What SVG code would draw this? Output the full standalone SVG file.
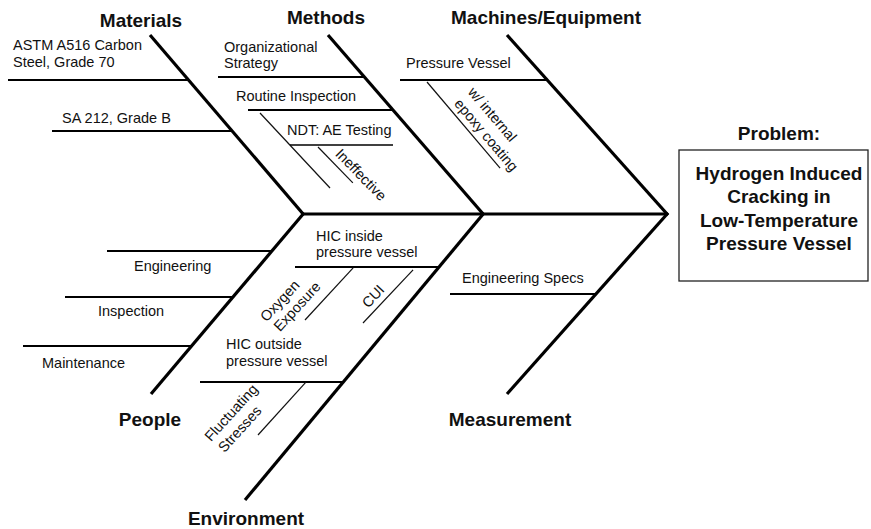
<svg xmlns="http://www.w3.org/2000/svg" width="871" height="529" viewBox="0 0 871 529">
  <style>
    text { font-family: "Liberation Sans", Arial, sans-serif; fill: #111; }
    .lbl { font-size: 14.5px; }
    .cat { font-size: 19px; font-weight: bold; text-anchor: middle; }
    .prob { font-size: 19px; font-weight: bold; text-anchor: middle; }
    .bone { stroke: #000; stroke-width: 3.2; stroke-linecap: butt; fill: none; }
    .rib { stroke: #000; stroke-width: 2.2; fill: none; }
    .twig { stroke: #111; stroke-width: 1.2; fill: none; }
  </style>
  <rect width="871" height="529" fill="#fff"/>

  <!-- skeleton: spine and the six category bones -->
  <g id="connectors">
    <line class="bone" x1="303" y1="214" x2="668" y2="214"/>
    <line class="bone" x1="150" y1="35" x2="304" y2="215"/>
    <line class="bone" x1="328" y1="35" x2="484" y2="215"/>
    <line class="bone" x1="507" y1="35" x2="668" y2="215"/>
    <line class="bone" x1="304" y1="213" x2="151" y2="394"/>
    <line class="bone" x1="484" y1="213" x2="245" y2="500"/>
    <line class="bone" x1="668" y1="213" x2="507" y2="394"/>
  </g>

  <!-- Materials -->
  <g id="materials">
    <text class="cat" x="141" y="27">Materials</text>
    <line class="rib" x1="8" y1="80" x2="188" y2="80"/>
    <text class="lbl" x="13" y="50">ASTM A516 Carbon</text>
    <text class="lbl" x="13" y="67">Steel, Grade 70</text>
    <line class="rib" x1="52" y1="131" x2="232" y2="131"/>
    <text class="lbl" x="62" y="123">SA 212, Grade B</text>
  </g>

  <!-- Methods -->
  <g id="methods">
    <text class="cat" x="326" y="24">Methods</text>
    <line class="rib" x1="218" y1="77" x2="364" y2="77"/>
    <text class="lbl" x="224" y="52">Organizational</text>
    <text class="lbl" x="224" y="68">Strategy</text>
    <line class="rib" x1="248" y1="110" x2="393" y2="110"/>
    <text class="lbl" x="236" y="101">Routine Inspection</text>
    <line class="twig" x1="260" y1="113" x2="330" y2="188"/>
    <line class="rib" x1="290" y1="145" x2="393" y2="145" style="stroke-width:1.6"/>
    <text class="lbl" x="287" y="135">NDT: AE Testing</text>
    <g transform="translate(318,147) rotate(45.8)">
      <line class="twig" x1="0" y1="0" x2="50" y2="0"/>
      <text class="lbl" x="17" y="-6.5">Ineffective</text>
    </g>
  </g>

  <!-- Machines/Equipment -->
  <g id="machines">
    <text class="cat" x="546" y="24">Machines/Equipment</text>
    <line class="rib" x1="400" y1="80" x2="546" y2="80"/>
    <text class="lbl" x="406" y="68">Pressure Vessel</text>
    <g transform="translate(427,82) rotate(49.7)">
      <line class="twig" x1="0" y1="0" x2="113" y2="0"/>
      <text class="lbl" x="34" y="-24">w/ internal</text>
      <text class="lbl" x="34" y="-6">epoxy coating</text>
    </g>
  </g>

  <!-- People -->
  <g id="people">
    <text class="cat" x="150" y="426">People</text>
    <line class="rib" x1="107" y1="251" x2="272" y2="251"/>
    <text class="lbl" x="134" y="271">Engineering</text>
    <line class="rib" x1="65" y1="297" x2="233" y2="297"/>
    <text class="lbl" x="98" y="316">Inspection</text>
    <line class="rib" x1="23" y1="346" x2="192" y2="346"/>
    <text class="lbl" x="42" y="368">Maintenance</text>
  </g>

  <!-- Environment -->
  <g id="environment">
    <text class="cat" x="246" y="525">Environment</text>
    <line class="rib" x1="295" y1="267" x2="439" y2="267"/>
    <text class="lbl" x="316" y="241">HIC inside</text>
    <text class="lbl" x="316" y="257">pressure vessel</text>
    <g transform="translate(305,320) rotate(-47.3)">
      <line class="twig" x1="0" y1="0" x2="71" y2="0"/>
      <text class="lbl" x="-28" y="-26.5">Oxygen</text>
      <text class="lbl" x="-26" y="-10">Exposure</text>
    </g>
    <g transform="translate(363,323) rotate(-46.7)">
      <line class="twig" x1="0" y1="0" x2="73" y2="0"/>
      <text class="lbl" x="14" y="-6">CUI</text>
    </g>
    <line class="rib" x1="200" y1="382" x2="343" y2="382"/>
    <text class="lbl" x="226" y="349">HIC outside</text>
    <text class="lbl" x="226" y="366">pressure vessel</text>
    <g transform="translate(258,435) rotate(-47.8)">
      <line class="twig" x1="0" y1="0" x2="71" y2="0"/>
      <text class="lbl" x="-37" y="-30">Fluctuating</text>
      <text class="lbl" x="-36" y="-12.5">Stresses</text>
    </g>
  </g>

  <!-- Measurement -->
  <g id="measurement">
    <text class="cat" x="510" y="426">Measurement</text>
    <line class="rib" x1="450" y1="294" x2="595" y2="294"/>
    <text class="lbl" x="462" y="283">Engineering Specs</text>
  </g>

  <!-- Problem statement -->
  <g id="problem">
    <text class="prob" x="779" y="140">Problem:</text>
    <rect x="679" y="150" width="189" height="131" fill="none" stroke="#222" stroke-width="1.3"/>
    <text class="prob" x="779" y="180">Hydrogen Induced</text>
    <text class="prob" x="779" y="203">Cracking in</text>
    <text class="prob" x="779" y="227">Low-Temperature</text>
    <text class="prob" x="779" y="250">Pressure Vessel</text>
  </g>
</svg>
